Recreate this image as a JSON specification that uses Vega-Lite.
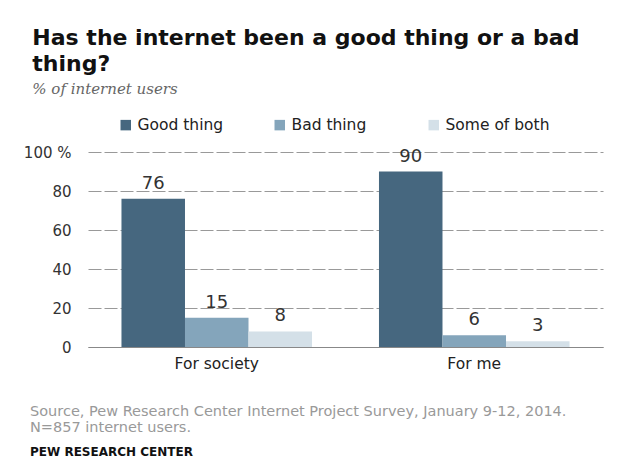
{
  "$schema": "https://vega.github.io/schema/vega-lite/v6.json",
  "background": "white",
  "padding": {"left": 23, "top": 27, "right": 10, "bottom": 5},
  "title": {
    "text": ["Has the internet been a good thing or a bad", "thing?"],
    "subtitle": "% of internet users",
    "anchor": "start",
    "dx": 9,
    "font": "DejaVu Sans",
    "fontSize": 22,
    "fontWeight": "bold",
    "color": "#111111",
    "lineHeight": 26,
    "subtitleFont": "DejaVu Serif",
    "subtitleFontStyle": "italic",
    "subtitleFontSize": 15,
    "subtitleColor": "#666666",
    "subtitlePadding": 6,
    "offset": 19
  },
  "datasets": {
    "bars": [
      {"cat": "For society", "resp": "Good thing", "value": 76},
      {"cat": "For society", "resp": "Bad thing", "value": 15},
      {"cat": "For society", "resp": "Some of both", "value": 8},
      {"cat": "For me", "resp": "Good thing", "value": 90},
      {"cat": "For me", "resp": "Bad thing", "value": 6},
      {"cat": "For me", "resp": "Some of both", "value": 3}
    ],
    "blank": [{"t": ""}]
  },
  "vconcat": [
    {
      "width": 515,
      "height": 195,
      "data": {"name": "bars"},
      "encoding": {
        "x": {
          "field": "cat", "type": "nominal", "sort": ["For society", "For me"],
          "scale": {"paddingInner": 0.26, "paddingOuter": 0.13},
          "axis": {"title": null, "labelAngle": 0, "ticks": false, "domainColor": "#888888", "labelFont": "DejaVu Sans", "labelFontSize": 15.5, "labelColor": "#222222", "labelPadding": 9}
        },
        "xOffset": {"field": "resp", "type": "nominal", "sort": ["Good thing", "Bad thing", "Some of both"]},
        "y": {
          "field": "value", "type": "quantitative",
          "scale": {"domain": [0, 100]},
          "axis": {"title": null, "values": [0, 20, 40, 60, 80, 100], "domain": false, "ticks": false, "gridDash": [13, 3], "gridColor": "#999999", "labelFont": "DejaVu Sans", "labelFontSize": 15, "labelColor": "#333333", "labelPadding": 17, "labelExpr": "datum.value == 100 ? '100 %' : datum.label"}
        }
      },
      "layer": [
        {
          "mark": {"type": "bar"},
          "encoding": {
            "color": {
              "field": "resp", "type": "nominal", "sort": ["Good thing", "Bad thing", "Some of both"],
              "scale": {"domain": ["Good thing", "Bad thing", "Some of both"], "range": ["#46677f", "#84a5bb", "#d4e0e8"]},
              "legend": {"title": null, "orient": "none", "legendX": 30, "legendY": -35, "direction": "horizontal", "columns": 3, "gridAlign": "all", "symbolType": "square", "symbolSize": 110, "symbolStrokeWidth": 0, "labelFont": "DejaVu Sans", "labelFontSize": 15.5, "labelColor": "#222222", "labelOffset": 4, "columnPadding": 30}
            }
          }
        },
        {
          "mark": {"type": "text", "baseline": "bottom", "dy": -6, "font": "DejaVu Sans", "fontSize": 18, "color": "#333333"},
          "encoding": {"text": {"field": "value", "type": "quantitative"}}
        }
      ]
    },
    {
      "width": 515,
      "height": 1,
      "data": {"name": "blank"},
      "title": {
        "text": ["Source, Pew Research Center Internet Project Survey, January 9-12, 2014.", "N=857 internet users."],
        "subtitle": "PEW RESEARCH CENTER",
        "anchor": "start",
        "font": "DejaVu Sans",
        "fontSize": 14.5,
        "fontWeight": "normal",
        "color": "#999999",
        "lineHeight": 16,
        "subtitleFont": "DejaVu Sans",
        "subtitleFontSize": 12,
        "subtitleFontWeight": "bold",
        "subtitleColor": "#111111",
        "subtitlePadding": 11,
        "dx": -58
      },
      "mark": {"type": "text"},
      "encoding": {"text": {"field": "t", "type": "nominal"}}
    }
  ],
  "spacing": 32,
  "config": {"view": {"stroke": null}}
}
